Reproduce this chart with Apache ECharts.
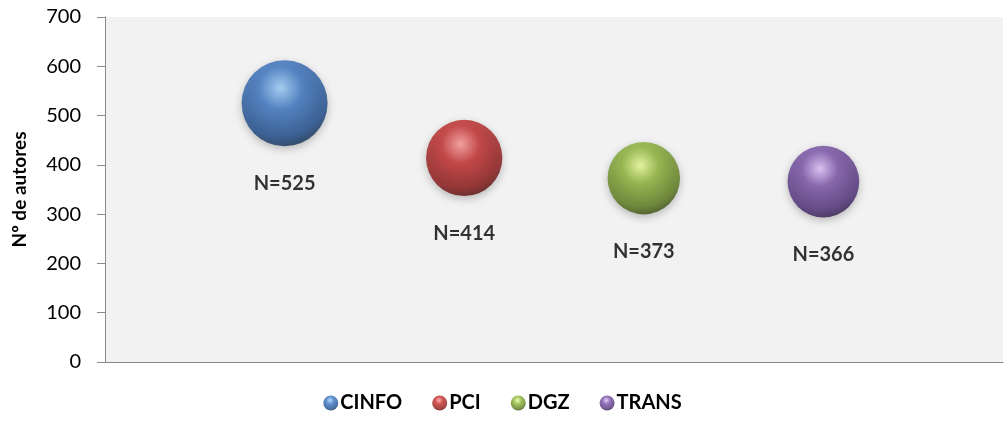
<!DOCTYPE html>
<html>
<head>
<meta charset="utf-8">
<script src="https://cdn.jsdelivr.net/npm/echarts@6/dist/echarts.min.js"></script>
<style>html,body{margin:0;padding:0;background:#fff}#c{width:1005px;height:425px}</style>
</head>
<body>
<div id="c"></div>
<script>
const categories = ['CINFO', 'PCI', 'DGZ', 'TRANS'];
const positions = [1, 2, 3, 4];
const values = [525, 414, 373, 366];
const yTicks = [0, 100, 200, 300, 400, 500, 600, 700];
const palette = [
  ['#9fd2ff', '#3a75c2', '#1c4a8a', '#0f2646'],
  ['#ff9a9a', '#c42c2b', '#8a1616', '#4a0808'],
  ['#eeff99', '#8db537', '#5b7a1c', '#2e400a'],
  ['#e0c4ff', '#7a52a8', '#4e2f78', '#281442']
];
const fontFam = 'Lato, "Open Sans", sans-serif';
const chart = echarts.init(document.getElementById('c'));
const series = categories.map((name, i) => ({
  name,
  type: 'scatter',
  data: [[positions[i], values[i]]],
  symbolSize: v => Math.sqrt(v[1]) * 3.75,
  itemStyle: {
    color: {
      type: 'radial', x: 0.45, y: 0.32, r: 0.72,
      colorStops: [
        { offset: 0, color: palette[i][0] },
        { offset: 0.35, color: palette[i][1] },
        { offset: 0.8, color: palette[i][2] },
        { offset: 1, color: palette[i][3] }
      ]
    },
    shadowBlur: 8, shadowColor: 'rgba(0,0,0,0.3)', shadowOffsetY: 3
  },
  label: {
    show: true, position: 'bottom', distance: 27,
    formatter: p => 'N=' + p.value[1],
    color: '#000', fontWeight: 'bold', fontSize: 20, fontFamily: fontFam
  },
  emphasis: { disabled: true }
}));
chart.setOption({
  animation: false,
  color: palette.map(p => p[1]),
  grid: { left: 105, right: 2, top: 17, bottom: 63, show: true, backgroundColor: '#f2f2f2', borderWidth: 0 },
  xAxis: {
    type: 'value', min: 0, max: 5, interval: 1,
    axisLine: { show: true, lineStyle: { color: '#898989' } },
    axisTick: { show: false }, axisLabel: { show: false }, splitLine: { show: false }
  },
  yAxis: {
    type: 'value', min: yTicks[0], max: yTicks[yTicks.length - 1], interval: 100,
    name: 'Nº de autores', nameLocation: 'middle', nameGap: 76, nameRotate: 90,
    nameTextStyle: { fontWeight: 'bold', fontSize: 19, color: '#000', fontFamily: fontFam },
    axisLine: { show: true, lineStyle: { color: '#898989' } },
    axisTick: { show: true, length: 8, lineStyle: { color: '#898989' } },
    axisLabel: { fontSize: 20, color: '#000', margin: 24, fontFamily: fontFam },
    splitLine: { show: false }
  },
  legend: {
    bottom: 7, left: 'center', itemGap: 30, itemWidth: 15, itemHeight: 15,
    icon: 'circle',
    textStyle: { fontWeight: 'bold', fontSize: 20, color: '#000', fontFamily: fontFam, padding: [0, 0, 0, -3] },
    data: categories
  },
  series
});
</script>
</body>
</html>
